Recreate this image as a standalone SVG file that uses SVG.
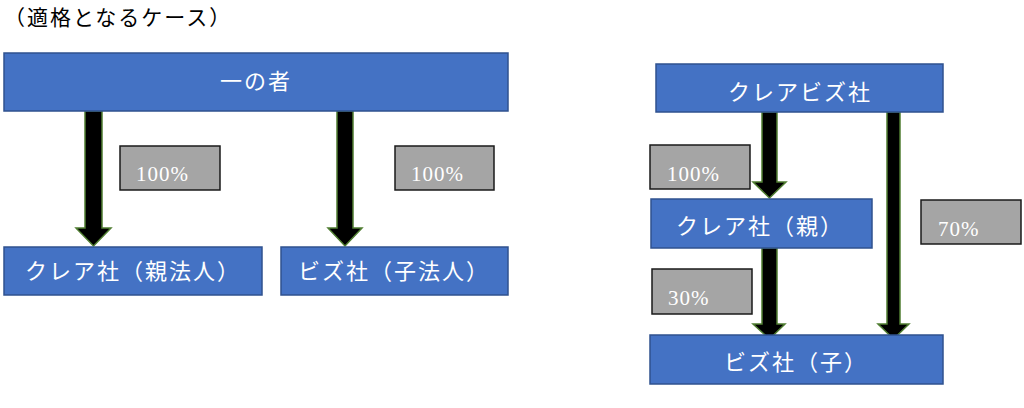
<svg xmlns="http://www.w3.org/2000/svg" width="1024" height="408" viewBox="0 0 1024 408">
<style>
.node{fill:#4472C4;stroke:#2F528F;stroke-width:1.5}
.lab{fill:#A5A5A5;stroke:#1a1a1a;stroke-width:1.5}
.arr{fill:#000;stroke:#507E32;stroke-width:1.5;stroke-linejoin:miter}
.t{font-family:"Liberation Serif","Noto Sans CJK JP",serif;fill:#fff;font-size:22px;text-anchor:middle;letter-spacing:2px}
.p{font-family:"Liberation Serif","Noto Sans CJK JP",serif;fill:#fff;font-size:21px;letter-spacing:1px}
.title{font-family:"Liberation Serif","Noto Sans CJK JP",serif;fill:#000;font-size:21px;letter-spacing:2px}
</style>
<text class="title" x="4" y="25">（適格となるケース）</text>
<g id="connectors">
<path class="arr" d="M85,111 H102 V228 H111 L93.5,246 L76,228 H85 Z"/>
<path class="arr" d="M337,111 H353 V228 H362 L345,246 L328,228 H337 Z"/>
<path class="arr" d="M762,112 H777 V182 H786 L769.5,198 L753,182 H762 Z"/>
<path class="arr" d="M762,248 H777 V324 H785 L769.5,339 L753,324 H762 Z"/>
<path class="arr" d="M887,112 H900 V324 H909 L893.5,339 L878,324 H887 Z"/>
</g>
<g id="n_ichi"><rect class="node" x="4" y="53" width="504" height="58"/><text class="t" x="256" y="89">一の者</text></g>
<g id="n_kurea_oya"><rect class="node" x="4" y="247" width="258" height="48"/><text class="t" x="133" y="279">クレア社（親法人）</text></g>
<g id="n_biz_ko"><rect class="node" x="281" y="247" width="227" height="48"/><text class="t" x="394" y="279">ビズ社（子法人）</text></g>
<g id="l1"><rect class="lab" x="120" y="146" width="100" height="44"/><text class="p" x="136" y="181">100%</text></g>
<g id="l2"><rect class="lab" x="395" y="146" width="99" height="44"/><text class="p" x="411" y="181">100%</text></g>
<g id="n_kureabiz"><rect class="node" x="656" y="64" width="287" height="48"/><text class="t" x="800" y="100">クレアビズ社</text></g>
<g id="n_kurea"><rect class="node" x="651" y="199" width="221" height="49"/><text class="t" x="760" y="234">クレア社（親）</text></g>
<g id="n_biz"><rect class="node" x="650" y="335" width="293" height="49"/><text class="t" x="796" y="370">ビズ社（子）</text></g>
<g id="l3"><rect class="lab" x="650" y="145" width="100" height="44"/><text class="p" x="667" y="181">100%</text></g>
<g id="l4"><rect class="lab" x="921" y="200" width="100" height="44"/><text class="p" x="938" y="236">70%</text></g>
<g id="l5"><rect class="lab" x="652" y="269" width="100" height="45"/><text class="p" x="668" y="305">30%</text></g>
</svg>
